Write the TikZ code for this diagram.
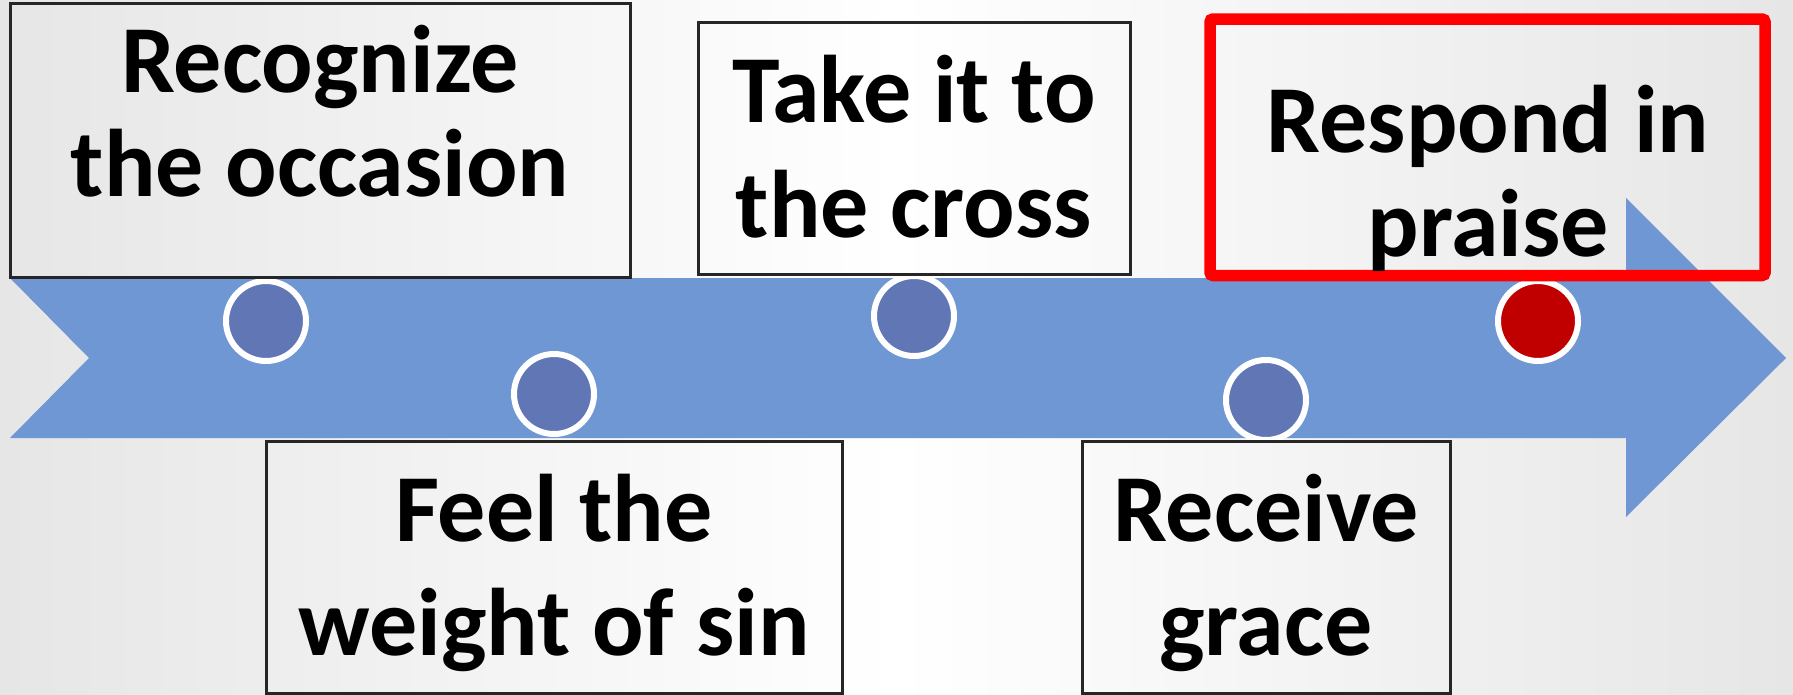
\documentclass[tikz,border=0pt]{standalone}
\usepackage{fontspec}
\setmainfont{Carlito}
\definecolor{arrowblue}{HTML}{6F97D3}
\definecolor{dotblue}{HTML}{6176B5}
\definecolor{dotred}{HTML}{C00000}
\definecolor{boxline}{HTML}{262626}
\definecolor{hilite}{HTML}{FF0000}
\definecolor{bgedge}{HTML}{E6E6E6}
\tikzset{
  stepbox/.style={draw=boxline, line width=3pt},
  redbox/.style={draw=hilite, line width=11.5pt, rounded corners=3pt},
  dot/.style={circle, draw=white, line width=6pt, fill=dotblue, minimum size=80pt, inner sep=0pt},
  reddot/.style={dot, fill=dotred},
  steptext/.style={anchor=base, align=center, font=\bfseries\fontsize{96}{#1}\selectfont, inner sep=0pt},
  steptext/.default=104
}
\begin{document}
\begin{tikzpicture}[x=1pt,y=-1pt]
\useasboundingbox (0,0) rectangle (1793,694);
\shade[left color=bgedge, right color=bgedge, middle color=white] (0,0) rectangle (1793,694);
% timeline arrow
\fill[arrowblue] (10,278) -- (1626,278) -- (1626,198) -- (1786,358) -- (1626,517) -- (1626,438) -- (10,438) -- (89,358) -- cycle;
% dots
\node[dot] (d1) at (266,321) {};
\node[dot] (d2) at (554,394) {};
\node[dot] (d3) at (914,316) {};
\node[dot] (d4) at (1266,400) {};
\node[reddot] (d5) at (1538,321) {};
% boxes
\draw[stepbox] (10,3) rectangle (630,277);
\draw[stepbox] (266,441) rectangle (842,693);
\draw[stepbox] (698,22) rectangle (1130,274);
\draw[stepbox] (1082,441) rectangle (1450,693);
\draw[redbox] (1210,19) rectangle (1765,275.5);
% texts
\node[steptext=104] (t1) at (320,196.7) {Recognize\\the occasion};
\node[steptext=114] (t2) at (554,655) {Feel the\\weight of sin};
\node[steptext=115] (t3) at (914,237.3) {Take it to\\the cross};
\node[steptext=114] (t4) at (1266,655) {Receive\\grace};
\node[steptext=104] (t5) at (1488,256.7) {Respond in\\praise};
\end{tikzpicture}
\end{document}
